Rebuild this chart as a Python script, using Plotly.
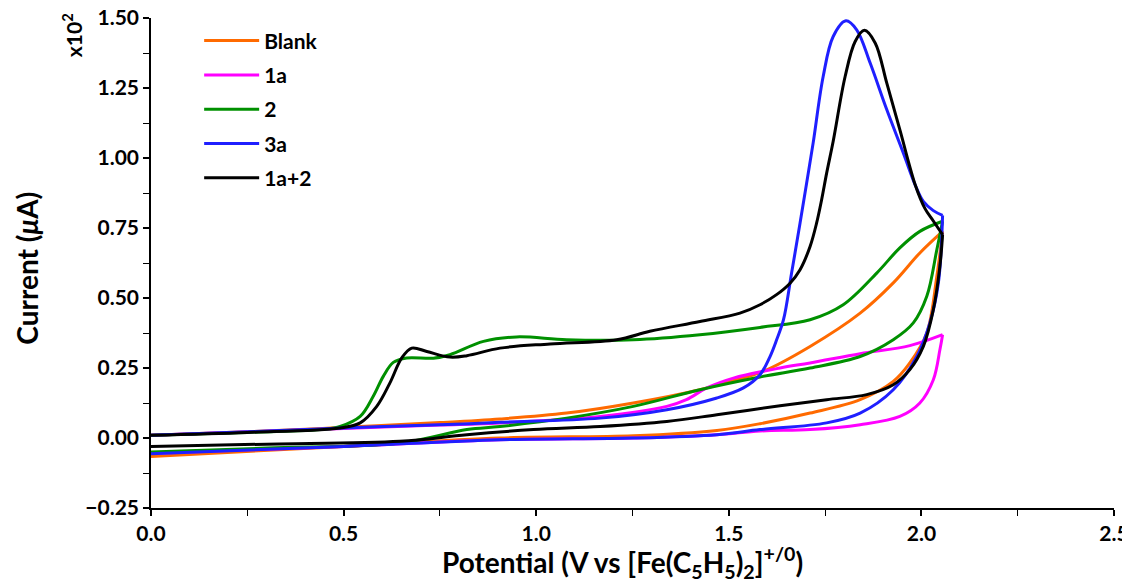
import plotly.graph_objects as go

# ---- data (Current x10^2 uA vs Potential V) ----
series_names = ["Blank", "1a", "2", "3a", "1a+2"]
series_colors = ["#FF6A00", "#FF00FF", "#009000", "#1F1FFF", "#000000"]

# Blank (orange)
blank_x_fwd = [0, 0.25, 0.5, 0.75, 0.906, 1.079, 1.252, 1.425, 1.503, 1.589, 1.711, 1.841, 1.927, 1.996, 2.055]
blank_y_fwd = [0.010, 0.022, 0.038, 0.055, 0.068, 0.089, 0.125, 0.1725, 0.202, 0.238, 0.327, 0.446, 0.554, 0.661, 0.738]
blank_x_rev = [2.055, 2.04, 2.014, 1.970, 1.927, 1.841, 1.711, 1.581, 1.469, 1.252, 0.906, 0.5, 0]
blank_y_rev = [0.738, 0.577, 0.375, 0.268, 0.202, 0.137, 0.089, 0.051, 0.027, 0.008, 0.000, -0.030, -0.066]

# 1a (magenta)
m1a_x_fwd = [0, 0.25, 0.5, 0.75, 0.906, 1.166, 1.339, 1.390, 1.443, 1.512, 1.633, 1.711, 1.841, 1.970, 2.055]
m1a_y_fwd = [0.010, 0.021, 0.034, 0.046, 0.054, 0.077, 0.113, 0.137, 0.179, 0.214, 0.250, 0.268, 0.301, 0.330, 0.369]
m1a_x_rev = [2.055, 2.048, 2.031, 1.996, 1.944, 1.841, 1.711, 1.581, 1.469, 1.252, 0.906, 0.5, 0]
m1a_y_rev = [0.369, 0.315, 0.208, 0.125, 0.077, 0.0475, 0.030, 0.025, 0.012, 0.000, -0.006, -0.030, -0.055]

# 2 (green)
c2_x_fwd = [0, 0.25, 0.45, 0.491, 0.543, 0.577, 0.603, 0.629, 0.664, 0.733, 0.776, 0.863, 0.949, 1.079, 1.252,
            1.425, 1.581, 1.711, 1.797, 1.884, 1.944, 1.996, 2.055]
c2_y_fwd = [0.010, 0.020, 0.031, 0.041, 0.077, 0.149, 0.220, 0.270, 0.286, 0.285, 0.2975, 0.345, 0.361, 0.351, 0.351,
            0.369, 0.395, 0.4225, 0.476, 0.589, 0.679, 0.738, 0.774]
c2_x_rev = [2.055, 2.04, 2.014, 1.979, 1.927, 1.841, 1.711, 1.581, 1.425, 1.252, 1.079, 0.906, 0.82, 0.646, 0.3, 0]
c2_y_rev = [0.774, 0.672, 0.506, 0.411, 0.351, 0.291, 0.250, 0.218, 0.1725, 0.113, 0.071, 0.041, 0.030, -0.018, -0.036, -0.050]

# 3a (blue)
c3a_x_fwd = [0, 0.25, 0.5, 0.75, 0.906, 1.166, 1.339, 1.469, 1.538, 1.581, 1.607, 1.624, 1.642, 1.663, 1.685,
             1.702, 1.719, 1.745, 1.771, 1.804, 1.832, 1.867, 1.910, 1.953, 1.985, 2.005, 2.031, 2.055]
c3a_y_fwd = [0.010, 0.022, 0.036, 0.047, 0.056, 0.071, 0.101, 0.143, 0.179, 0.226, 0.291, 0.350, 0.4225, 0.589, 0.768,
             0.910, 1.054, 1.291, 1.434, 1.490, 1.458, 1.339, 1.173, 1.018, 0.900, 0.845, 0.812, 0.795]
c3a_x_rev = [2.055, 2.044, 2.022, 1.988, 1.927, 1.841, 1.754, 1.581, 1.469, 1.252, 0.906, 0.5, 0]
c3a_y_rev = [0.795, 0.553, 0.411, 0.291, 0.1725, 0.089, 0.054, 0.030, 0.012, 0.000, -0.006, -0.030, -0.056]

# 1a+2 (black)
c1a2_x_fwd = [0, 0.25, 0.491, 0.543, 0.586, 0.620, 0.651, 0.677, 0.716, 0.776, 0.820, 0.906, 1.036, 1.209, 1.295,
              1.425, 1.529, 1.581, 1.624, 1.659, 1.685, 1.711, 1.728, 1.741, 1.754, 1.771, 1.802, 1.828, 1.852,
              1.880, 1.910, 1.944, 1.985, 2.009, 2.031, 2.055]
c1a2_y_fwd = [0.010, 0.020, 0.036, 0.054, 0.113, 0.196, 0.286, 0.321, 0.309, 0.289, 0.294, 0.321, 0.336, 0.351, 0.381,
              0.416, 0.446, 0.476, 0.512, 0.553, 0.601, 0.684, 0.768, 0.851, 0.946, 1.060, 1.291, 1.416, 1.456,
              1.411, 1.268, 1.101, 0.900, 0.820, 0.775, 0.726]
c1a2_x_rev = [2.055, 2.048, 2.031, 2.005, 1.970, 1.927, 1.858, 1.754, 1.633, 1.469, 1.339, 1.166, 0.993, 0.82, 0.646, 0.3, 0]
c1a2_y_rev = [0.726, 0.613, 0.458, 0.327, 0.244, 0.190, 0.155, 0.137, 0.115, 0.083, 0.059, 0.041, 0.030, 0.012, -0.012, -0.022, -0.030]

x_ticks = [0.0, 0.5, 1.0, 1.5, 2.0, 2.5]
y_ticks = [-0.25, 0.0, 0.25, 0.5, 0.75, 1.0, 1.25, 1.5]

all_data = [
    (blank_x_fwd, blank_y_fwd, blank_x_rev, blank_y_rev),
    (m1a_x_fwd, m1a_y_fwd, m1a_x_rev, m1a_y_rev),
    (c2_x_fwd, c2_y_fwd, c2_x_rev, c2_y_rev),
    (c3a_x_fwd, c3a_y_fwd, c3a_x_rev, c3a_y_rev),
    (c1a2_x_fwd, c1a2_y_fwd, c1a2_x_rev, c1a2_y_rev),
]

FONT = "Lato"
fig = go.Figure()
for name, color, (xf, yf, xr, yr) in zip(series_names, series_colors, all_data):
    fig.add_trace(go.Scatter(x=xf, y=yf, mode="lines", name=name, legendgroup=name,
                             line=dict(color=color, width=3, shape="spline", smoothing=1.0)))
    fig.add_trace(go.Scatter(x=xr, y=yr, mode="lines", name=name, legendgroup=name, showlegend=False,
                             line=dict(color=color, width=3, shape="spline", smoothing=1.0)))

fig.update_layout(
    width=1130, height=584,
    margin=dict(l=143, r=24, t=10, b=84, autoexpand=False),
    paper_bgcolor="white", plot_bgcolor="white",
    font=dict(family=FONT, color="black"),
    showlegend=True,
    legend=dict(x=0.05, y=0.995, xanchor="left", yanchor="top", itemwidth=55,
                font=dict(family=FONT, size=21, color="black", weight="bold"),
                tracegroupgap=4, bgcolor="rgba(0,0,0,0)", traceorder="grouped"),
    xaxis=dict(range=[0, 2.5], tickvals=x_ticks, tickformat=".1f", showgrid=False, zeroline=False,
               automargin=False, ticklabeloverflow="allow",
               showline=True, linecolor="black", linewidth=1.5, ticks="outside", ticklen=6, tickwidth=1.5,
               tickcolor="black", tickfont=dict(family=FONT, size=21, weight="bold"),
               minor=dict(dtick=0.25, ticks="outside", ticklen=6, tickwidth=1.2, tickcolor="black", showgrid=False)),
    yaxis=dict(range=[-0.25, 1.5], tickvals=y_ticks, tickformat=".2f", showgrid=False, zeroline=False,
               automargin=False, ticklabeloverflow="allow",
               showline=True, linecolor="black", linewidth=1.5, ticks="outside", ticklen=6, tickwidth=1.5,
               tickcolor="black", tickfont=dict(family=FONT, size=21, weight="bold"),
               minor=dict(dtick=0.125, ticks="outside", ticklen=6, tickwidth=1.2, tickcolor="black", showgrid=False)),
    annotations=[
        dict(text="Potential (V vs [Fe(C<sub>5</sub>H<sub>5</sub>)<sub>2</sub>]<sup>+/0</sup>)",
             x=0.49, y=-0.112, xref="paper", yref="paper", xanchor="center", yanchor="middle",
             showarrow=False, font=dict(family=FONT, size=28, weight="bold")),
        dict(text="Current (<i>μ</i>A)", x=-0.129, y=0.49, xref="paper", yref="paper",
             xanchor="center", yanchor="middle", textangle=-90,
             showarrow=False, font=dict(family=FONT, size=28, weight="bold")),
        dict(text="x10<sup>2</sup>", x=-0.082, y=0.965, xref="paper", yref="paper",
             xanchor="center", yanchor="middle", textangle=-90,
             showarrow=False, font=dict(family=FONT, size=21, weight="bold")),
    ],
)

fig.write_html("out.html")
